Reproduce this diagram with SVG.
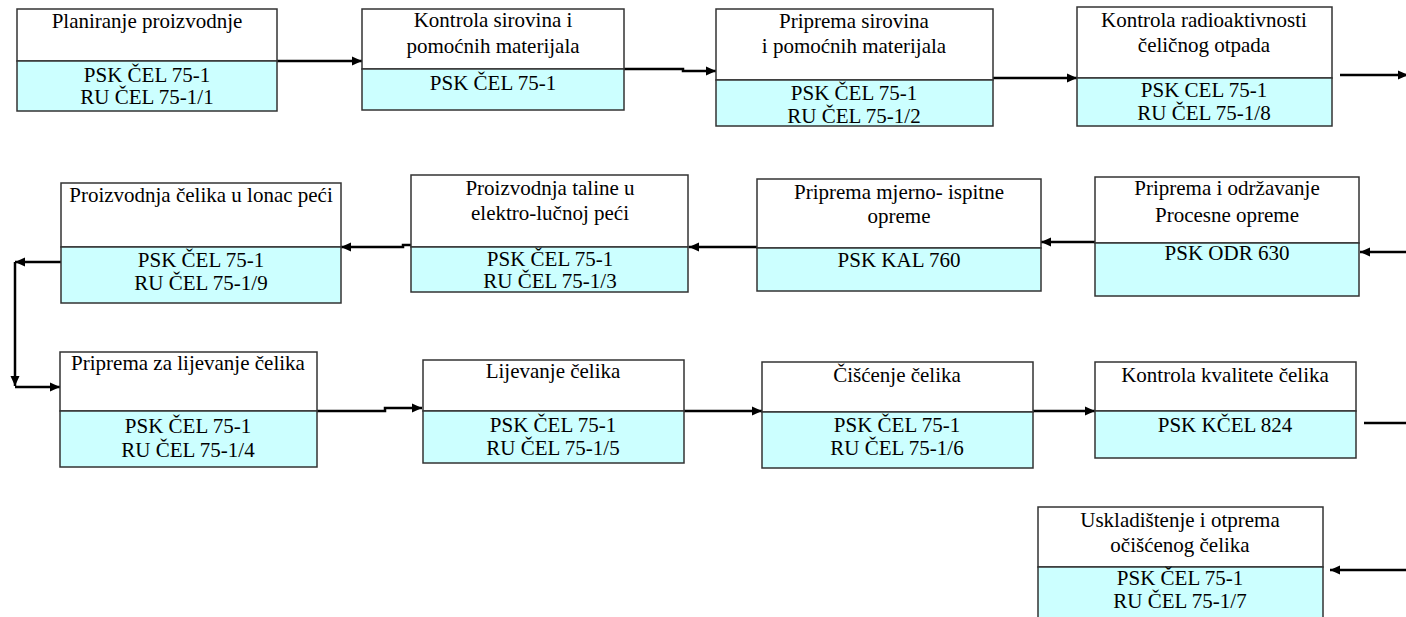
<svg xmlns="http://www.w3.org/2000/svg" width="1406" height="617" viewBox="0 0 1406 617">
<style>
.box{fill:#ffffff;stroke:#333333;stroke-width:1.5}
.code{fill:#ccffff;stroke:#333333;stroke-width:1.5}
.t{font-family:"Liberation Serif","Times New Roman",serif;font-size:21px;fill:#000000;text-anchor:middle}
.c{fill:none;stroke:#000000;stroke-width:2.5}
</style>
<defs>
<marker id="ah" viewBox="0 0 10 10" refX="10" refY="5" markerWidth="11" markerHeight="10" markerUnits="userSpaceOnUse" orient="auto">
<path d="M0,0.5 L10,5 L0,9.5 z" fill="#000000"/>
</marker>
</defs>
<rect width="1406" height="617" fill="#ffffff"/>

<g id="connectors">
<path class="c" d="M277,61 H362" marker-end="url(#ah)"/>
<path class="c" d="M624,69 H683 V71 H716" marker-end="url(#ah)"/>
<path class="c" d="M993,78 H1077" marker-end="url(#ah)"/>
<path class="c" d="M1340,75 H1408" marker-end="url(#ah)"/>
<path class="c" d="M1406,252 H1360" marker-end="url(#ah)"/>
<path class="c" d="M1095,242 H1041" marker-end="url(#ah)"/>
<path class="c" d="M757,247 H689" marker-end="url(#ah)"/>
<path class="c" d="M411,245 H403 V247 H341" marker-end="url(#ah)"/>
<path class="c" d="M61,262 H15" marker-end="url(#ah)"/>
<path class="c" d="M15,262 V386" marker-end="url(#ah)"/>
<path class="c" d="M15,387 H60" marker-end="url(#ah)"/>
<path class="c" d="M317,411 H385 V408 H422" marker-end="url(#ah)"/>
<path class="c" d="M684,411 H762" marker-end="url(#ah)"/>
<path class="c" d="M1033,411 H1095" marker-end="url(#ah)"/>
<path class="c" d="M1364,423 H1406"/>
<path class="c" d="M1406,570 H1330" marker-end="url(#ah)"/>
</g>

<g id="n1">
<rect class="box" x="17" y="9" width="260" height="52"/>
<rect class="code" x="17" y="61" width="260" height="50"/>
<text class="t" x="147" y="28">Planiranje proizvodnje</text>
<text class="t" x="147" y="82">PSK ČEL 75-1</text>
<text class="t" x="147" y="104">RU ČEL 75-1/1</text>
</g>

<g id="n2">
<rect class="box" x="362" y="9" width="262" height="60"/>
<rect class="code" x="362" y="69" width="262" height="41"/>
<text class="t" x="493" y="27">Kontrola sirovina i</text>
<text class="t" x="493" y="53">pomoćnih materijala</text>
<text class="t" x="493" y="90">PSK ČEL 75-1</text>
</g>

<g id="n3">
<rect class="box" x="716" y="9" width="277" height="71"/>
<rect class="code" x="716" y="80" width="277" height="46"/>
<text class="t" x="854" y="28">Priprema sirovina</text>
<text class="t" x="854" y="53">i pomoćnih materijala</text>
<text class="t" x="854" y="100">PSK ČEL 75-1</text>
<text class="t" x="854" y="123">RU ČEL 75-1/2</text>
</g>

<g id="n4">
<rect class="box" x="1077" y="7" width="255" height="71"/>
<rect class="code" x="1077" y="78" width="255" height="48"/>
<text class="t" x="1204" y="27">Kontrola radioaktivnosti</text>
<text class="t" x="1204" y="52">čeličnog otpada</text>
<text class="t" x="1204" y="97">PSK CEL 75-1</text>
<text class="t" x="1204" y="120">RU ČEL 75-1/8</text>
</g>

<g id="n5">
<rect class="box" x="61" y="183" width="280" height="64"/>
<rect class="code" x="61" y="247" width="280" height="56"/>
<text class="t" x="201" y="202">Proizvodnja čelika u lonac peći</text>
<text class="t" x="201" y="267">PSK ČEL 75-1</text>
<text class="t" x="201" y="290">RU ČEL 75-1/9</text>
</g>

<g id="n6">
<rect class="box" x="411" y="175" width="277" height="72"/>
<rect class="code" x="411" y="247" width="277" height="45"/>
<text class="t" x="550" y="195">Proizvodnja taline u</text>
<text class="t" x="550" y="220">elektro-lučnoj peći</text>
<text class="t" x="550" y="266">PSK ČEL 75-1</text>
<text class="t" x="550" y="288">RU ČEL 75-1/3</text>
</g>

<g id="n7">
<rect class="box" x="757" y="179" width="284" height="69"/>
<rect class="code" x="757" y="248" width="284" height="43"/>
<text class="t" x="899" y="199">Priprema mjerno- ispitne</text>
<text class="t" x="899" y="223">opreme</text>
<text class="t" x="899" y="267">PSK KAL 760</text>
</g>

<g id="n8">
<rect class="box" x="1095" y="177" width="264" height="66"/>
<rect class="code" x="1095" y="243" width="264" height="53"/>
<text class="t" x="1227" y="195">Priprema i održavanje</text>
<text class="t" x="1227" y="222">Procesne opreme</text>
<text class="t" x="1227" y="260">PSK ODR 630</text>
</g>

<g id="n9">
<rect class="box" x="60" y="352" width="257" height="59"/>
<rect class="code" x="60" y="411" width="257" height="56"/>
<text class="t" x="188" y="370">Priprema za lijevanje čelika</text>
<text class="t" x="188" y="433">PSK ČEL 75-1</text>
<text class="t" x="188" y="457">RU ČEL 75-1/4</text>
</g>

<g id="n10">
<rect class="box" x="423" y="360" width="261" height="51"/>
<rect class="code" x="423" y="411" width="261" height="52"/>
<text class="t" x="553" y="378">Lijevanje čelika</text>
<text class="t" x="553" y="432">PSK ČEL 75-1</text>
<text class="t" x="553" y="455">RU ČEL 75-1/5</text>
</g>

<g id="n11">
<rect class="box" x="762" y="362" width="271" height="50"/>
<rect class="code" x="762" y="412" width="271" height="56"/>
<text class="t" x="897" y="382">Čišćenje čelika</text>
<text class="t" x="897" y="432">PSK ČEL 75-1</text>
<text class="t" x="897" y="455">RU ČEL 75-1/6</text>
</g>

<g id="n12">
<rect class="box" x="1095" y="362" width="261" height="49"/>
<rect class="code" x="1095" y="411" width="261" height="47"/>
<text class="t" x="1225" y="382">Kontrola kvalitete čelika</text>
<text class="t" x="1225" y="432">PSK KČEL 824</text>
</g>

<g id="n13">
<rect class="box" x="1038" y="507" width="285" height="60"/>
<rect class="code" x="1038" y="567" width="285" height="60"/>
<text class="t" x="1180" y="527">Uskladištenje i otprema</text>
<text class="t" x="1180" y="552">očišćenog čelika</text>
<text class="t" x="1180" y="585">PSK ČEL 75-1</text>
<text class="t" x="1180" y="608">RU ČEL 75-1/7</text>
</g>
</svg>
